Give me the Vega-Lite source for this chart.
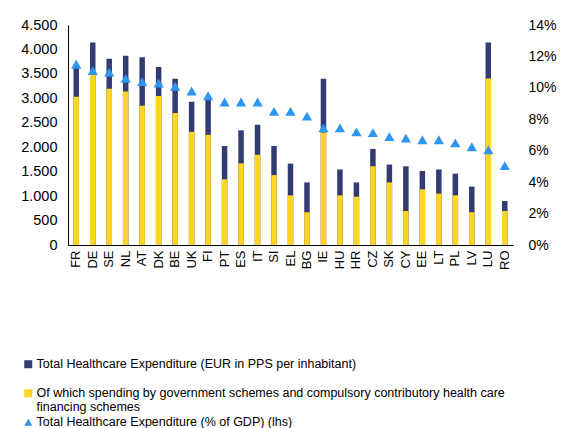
{
  "$schema": "https://vega.github.io/schema/vega-lite/v6.json",
  "autosize": {"type": "none"},
  "padding": {"left": 68, "top": 25, "right": 51, "bottom": 183},
  "width": 445,
  "height": 220,
  "background": "white",
  "config": {
    "font": "Liberation Sans",
    "view": {"stroke": null},
    "style": {"guide-label": {"lineHeight": 13.7}},
    "axis": {"grid": false, "ticks": false, "tickSize": 0, "title": null, "labelColor": "#000000", "domainColor": "#000000", "labelOverlap": false}
  },
  "data": {
    "values": [
      {"c": "FR", "total": 3640, "gov": 3030, "pct": 0.115},
      {"c": "DE", "total": 4140, "gov": 3500, "pct": 0.111},
      {"c": "SE", "total": 3810, "gov": 3195, "pct": 0.110},
      {"c": "NL", "total": 3870, "gov": 3140, "pct": 0.106},
      {"c": "AT", "total": 3840, "gov": 2850, "pct": 0.104},
      {"c": "DK", "total": 3640, "gov": 3050, "pct": 0.103},
      {"c": "BE", "total": 3400, "gov": 2700, "pct": 0.101},
      {"c": "UK", "total": 2930, "gov": 2315, "pct": 0.098},
      {"c": "FI", "total": 2970, "gov": 2255, "pct": 0.095},
      {"c": "PT", "total": 2025, "gov": 1345, "pct": 0.091},
      {"c": "ES", "total": 2345, "gov": 1670, "pct": 0.091},
      {"c": "IT", "total": 2460, "gov": 1845, "pct": 0.091},
      {"c": "SI", "total": 2025, "gov": 1430, "pct": 0.085},
      {"c": "EL", "total": 1665, "gov": 1015, "pct": 0.085},
      {"c": "BG", "total": 1280, "gov": 670, "pct": 0.082},
      {"c": "IE", "total": 3400, "gov": 2300, "pct": 0.0745},
      {"c": "HU", "total": 1545, "gov": 1015, "pct": 0.0745},
      {"c": "HR", "total": 1280, "gov": 990, "pct": 0.072},
      {"c": "CZ", "total": 1965, "gov": 1610, "pct": 0.0715},
      {"c": "SK", "total": 1645, "gov": 1280, "pct": 0.069},
      {"c": "CY", "total": 1610, "gov": 695, "pct": 0.068},
      {"c": "EE", "total": 1515, "gov": 1140, "pct": 0.067},
      {"c": "LT", "total": 1545, "gov": 1050, "pct": 0.067},
      {"c": "PL", "total": 1460, "gov": 1015, "pct": 0.065},
      {"c": "LV", "total": 1195, "gov": 670, "pct": 0.0625},
      {"c": "LU", "total": 4140, "gov": 3405, "pct": 0.0605},
      {"c": "RO", "total": 900, "gov": 695, "pct": 0.0505}
    ]
  },
  "encoding": {
    "x": {
      "field": "c", "type": "nominal", "sort": null,
      "scale": {"paddingInner": 0.68, "paddingOuter": 0.34},
      "axis": {"labelAngle": -90, "labelAlign": "right", "labelBaseline": "middle", "labelFontSize": 13, "labelPadding": 5, "domainWidth": 1}
    }
  },
  "layer": [
    {
      "layer": [
        {
          "mark": {"type": "bar", "width": 5.5},
          "encoding": {
            "y": {
              "field": "total", "type": "quantitative",
              "scale": {"domain": [0, 4500]},
              "axis": {"orient": "left", "values": [0, 500, 1000, 1500, 2000, 2500, 3000, 3500, 4000, 4500], "labelExpr": "replace(format(datum.value, ','), ',', '.')", "labelFontSize": 14.5, "labelPadding": 11, "labelOverlap": false, "domain": true, "domainColor": "#000000", "domainWidth": 1}
            },
            "color": {"datum": "Total Healthcare Expenditure (EUR in PPS per inhabitant)"}
          }
        },
        {
          "mark": {"type": "bar", "width": 5.5},
          "encoding": {
            "y": {
              "field": "gov", "type": "quantitative",
              "scale": {"domain": [0, 4500]},
              "axis": {"orient": "left", "values": [0, 500, 1000, 1500, 2000, 2500, 3000, 3500, 4000, 4500], "labelExpr": "replace(format(datum.value, ','), ',', '.')", "labelFontSize": 14.5, "labelPadding": 11, "labelOverlap": false, "domain": true, "domainColor": "#000000", "domainWidth": 1}
            },
            "color": {"datum": "Of which spending by government schemes and compulsory contributory health care financing schemes"}
          }
        }
      ]
    },
    {
      "mark": {"type": "point", "filled": true, "opacity": 1, "size": 105},
      "encoding": {
        "y": {
          "field": "pct", "type": "quantitative",
          "scale": {"domain": [0, 0.14]},
          "axis": {"orient": "right", "values": [0, 0.02, 0.04, 0.06, 0.08, 0.1, 0.12, 0.14], "format": ".0%", "domainOpacity": 0, "labelFontSize": 14, "labelPadding": 15}
        },
        "shape": {
          "datum": "Total Healthcare Expenditure (% of GDP) (lhs)",
          "scale": {
            "domain": ["Total Healthcare Expenditure (EUR in PPS per inhabitant)", "Of which spending by government schemes and compulsory contributory health care financing schemes", "Total Healthcare Expenditure (% of GDP) (lhs)"],
            "range": ["square", "square", "triangle-up"]
          },
          "legend": {
            "orient": "none",
            "legendX": -46,
            "legendY": 333,
            "title": null,
            "symbolSize": 64,
            "symbolStrokeWidth": 0,
            "labelFontSize": 12.5,
            "labelColor": "#000000",
            "labelLimit": 600,
            "rowPadding": 2,
            "labelOffset": 2,
            "labelExpr": "datum.index == 1 ? ['Of which spending by government schemes and compulsory contributory health care', 'financing schemes'] : datum.index == 0 ? [datum.label, ' '] : datum.label"
          }
        },
        "color": {
          "datum": "Total Healthcare Expenditure (% of GDP) (lhs)",
          "scale": {
            "domain": ["Total Healthcare Expenditure (EUR in PPS per inhabitant)", "Of which spending by government schemes and compulsory contributory health care financing schemes", "Total Healthcare Expenditure (% of GDP) (lhs)"],
            "range": ["#333B73", "#FFD524", "#2E96F0"]
          },
          "legend": {
            "orient": "none",
            "legendX": -46,
            "legendY": 333,
            "title": null,
            "symbolSize": 64,
            "symbolStrokeWidth": 0,
            "labelFontSize": 12.5,
            "labelColor": "#000000",
            "labelLimit": 600,
            "rowPadding": 2,
            "labelOffset": 2,
            "labelExpr": "datum.index == 1 ? ['Of which spending by government schemes and compulsory contributory health care', 'financing schemes'] : datum.index == 0 ? [datum.label, ' '] : datum.label"
          }
        }
      }
    }
  ],
  "resolve": {"scale": {"y": "independent"}}
}
